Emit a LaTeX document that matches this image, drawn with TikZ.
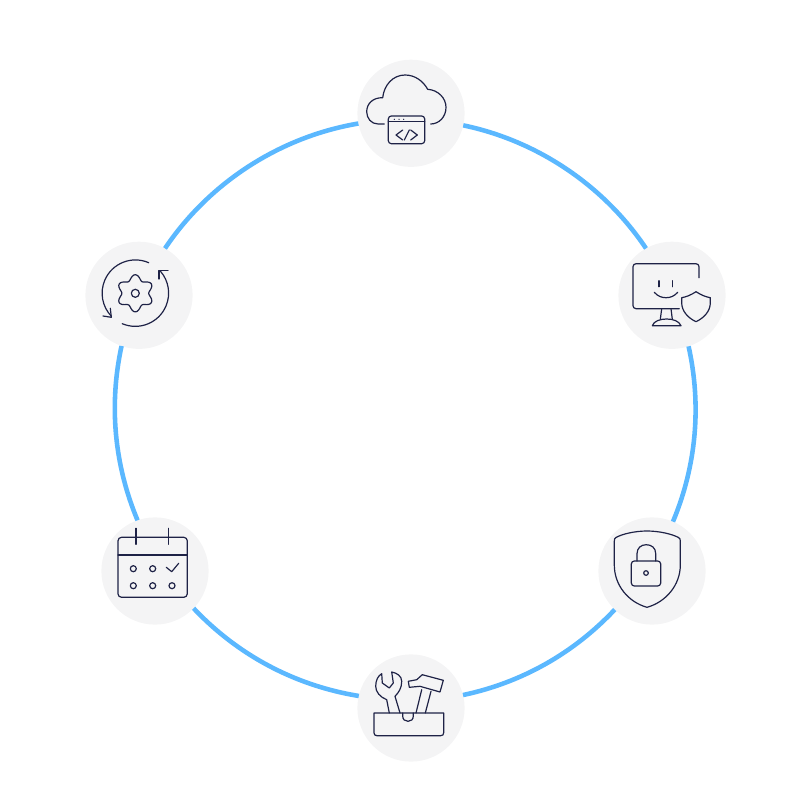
\documentclass[tikz,border=0pt]{standalone}
\usepackage{tikz}
\definecolor{ringColor}{RGB}{91,184,255}
\definecolor{discColor}{RGB}{244,244,245}
\definecolor{iconColor}{RGB}{30,34,70}
\tikzstyle{pixelGrid} = [x = .02cm, y = -.02cm]
\tikzstyle{iconDisc} = [circle, fill=discColor, minimum size=2.145cm, inner sep=0pt, outer sep=0pt]
\tikzstyle{ringLine} = [color=ringColor, line width=2.6pt, looseness=.88]
\tikzstyle{iconLine} = [color=iconColor, line width=.68pt, line join=round, line cap=round]
\tikzstyle{iconCorners} = [iconLine, rounded corners=.06cm]
\newcommand{\calendarDot}[2]{\draw [iconLine] (#1,#2) circle [radius=3];}
\newcommand{\windowDot}[1]{\fill [iconColor] (#1,119.3) circle [radius=.7];}
\begin{document}
\begin{tikzpicture}[pixelGrid]
  \useasboundingbox (0,0) rectangle (800,800);
  \node [iconDisc] (cloudDisc) at (411,113.3) {};
  \node [iconDisc] (screenDisc) at (672,295.3) {};
  \node [iconDisc] (lockDisc) at (652,571) {};
  \node [iconDisc] (toolDisc) at (411,708) {};
  \node [iconDisc] (calendarDisc) at (155,571) {};
  \node [iconDisc] (gearDisc) at (139,295.3) {};

  \draw [ringLine] (cloudDisc.-13.8) to [bend left=22.2] (screenDisc.119.4);
  \draw [ringLine] (screenDisc.-72.8) to [bend left=17.6] (lockDisc.67.4);
  \draw [ringLine] (lockDisc.226.5) to [bend left=17.4] (toolDisc.14.9);
  \draw [ringLine] (toolDisc.167.4) to [bend left=18.75] (calendarDisc.-44.2);
  \draw [ringLine] (calendarDisc.109.7) to [bend left=17.5] (gearDisc.251.8);
  \draw [ringLine] (gearDisc.61.4) to [bend left=23.3] (cloudDisc.191.5);

  \draw [iconLine] (384.3,124) -- (378,124) .. controls (371,124) and (366.7,118) .. (366.7,111.7)
    .. controls (366.7,103.5) and (373,97.5) .. (382.7,97.7) .. controls (384,85) and (393,75) .. (405,75)
    .. controls (415,75) and (423,81) .. (427.7,89.3) .. controls (438,90) and (446,98) .. (446,107.3)
    .. controls (446,117) and (439,124) .. (430.7,124);
  \draw [iconCorners] (388.3,116) rectangle (424.7,143.7);
  \draw [iconLine] (388.3,121.7) -- (424.7,121.7);
  \foreach \dotX in {394.3,399,403.7} {
    \windowDot{\dotX}
  }
  \draw [iconLine] (402.7,130) -- (396,135) -- (402.7,140);
  \draw [iconLine] (404.3,140) -- (409.3,130);
  \draw [iconLine] (410.7,130) -- (417.3,135) -- (410.7,140);

  \draw [iconCorners] (699,277.7) -- (699,263.7) -- (633,263.7) -- (633,308.7) -- (679.3,308.7);
  \draw [iconLine] (659,280.7) -- (659,286.7);
  \draw [iconLine] (672.3,280.7) -- (672.3,286.7);
  \draw [iconLine] (654.3,292.3) .. controls (658,296.5) and (662,297.7) .. (666,297.7)
    .. controls (670,297.7) and (674,296.5) .. (677.7,292.3);
  \draw [iconLine] (661.7,308.7) -- (660.3,319.3);
  \draw [iconLine] (671,308.7) -- (672.3,319.3);
  \draw [iconLine] (652.3,325.7) .. controls (654,321) and (660,319) .. (666.7,319)
    .. controls (673,319) and (679,321) .. (681,325.7) -- cycle;
  \draw [iconLine] (696,291.7) .. controls (691,295) and (686,297) .. (681.7,297.7) -- (681.7,303)
    .. controls (681.7,311) and (688,318) .. (696,321.7) .. controls (704,318) and (710.3,311) .. (710.3,303)
    -- (710.3,297.7) .. controls (706,297) and (701,295) .. (696,291.7) -- cycle;

  \draw [iconLine] (647,531) .. controls (635,531) and (622,534) .. (616,537.5)
    .. controls (614.8,538.2) and (614.3,539) .. (614.3,541) -- (614.3,565)
    .. controls (614.3,585) and (628,602) .. (647,607.3) .. controls (666,602) and (680.3,585) .. (680.3,565)
    -- (680.3,541) .. controls (680.3,539) and (679.8,538.2) .. (678.5,537.5)
    .. controls (672,534) and (659,531) .. (647,531) -- cycle;
  \draw [iconCorners] (631.3,561) rectangle (660.7,586);
  \draw [iconLine] (637,561) -- (637,553.7) .. controls (637,548) and (641,544.7) .. (646.3,544.7)
    .. controls (651.7,544.7) and (655.7,548) .. (655.7,553.7) -- (655.7,561);
  \draw [iconLine] (646,573) circle [radius=2.3];

  \draw [iconLine] (374,713) -- (443.7,713) -- (443.7,732.7) .. controls (443.7,734.7) and (442.7,735.7) .. (440.7,735.7)
    -- (377,735.7) .. controls (375,735.7) and (374,734.7) .. (374,732.7) -- cycle;
  \draw [iconLine] (402.7,713) -- (402.7,716) .. controls (402.7,719.5) and (405,721.3) .. (408,721.3)
    .. controls (411,721.3) and (413.3,719.5) .. (413.3,716) -- (413.3,713);
  \draw [iconLine] (389.3,713) -- (386.7,699.7) .. controls (380,697) and (375.7,692) .. (375.7,686.3)
    .. controls (375.7,680) and (378,676) .. (381.7,673.7) -- (382.3,683) -- (389.3,688) -- (393.3,683) -- (391.7,672)
    .. controls (397,673) and (401.7,676) .. (401.7,681.3) .. controls (401.7,688) and (399,692) .. (395,696.3) -- (400,713);
  \draw [iconLine] (408.3,681.3) -- (416.7,679.7) -- (422.3,674.7) -- (443.3,680.3) -- (440,692) -- (420,686.3) -- (409.3,687.3) -- cycle;
  \draw [iconLine] (421.7,689.7) -- (416,713);
  \draw [iconLine] (431,691.3) -- (425.3,713);

  \draw [iconLine, rounded corners=.07cm] (118,537.3) rectangle (187.3,597.3);
  \draw [iconLine] (118,555) -- (187.3,555);
  \draw [iconLine] (136,528.3) -- (136,544.3);
  \draw [iconLine] (168.7,528.3) -- (168.7,544.3);
  \calendarDot{133.3}{568.7}
  \calendarDot{152.7}{568.7}
  \calendarDot{133.3}{585.7}
  \calendarDot{152.7}{585.7}
  \calendarDot{172}{585.7}
  \draw [iconLine] (166.3,567.3) -- (171.7,571.7) -- (178.7,563.3);

  \draw [iconLine] (148.7,262.7) arc [start angle=-66.5, end angle=-224, radius=33.3];
  \draw [iconLine] (103,316) -- (111.3,317.3) -- (110.3,308.3);
  \draw [iconLine] (122.3,323.7) arc [start angle=113, end angle=-41, radius=33.3];
  \draw [iconLine] (168,270.7) -- (159,270.7) -- (159,279);
  \draw [iconLine] plot [domain=0:355, samples=72, smooth cycle] ({135.3+(16+2.6*cos(6*\x))*sin(\x)},{293.3+(16+2.6*cos(6*\x))*cos(\x)});
  \draw [iconLine] (135.3,293.3) circle [radius=4];
\end{tikzpicture}
\end{document}
